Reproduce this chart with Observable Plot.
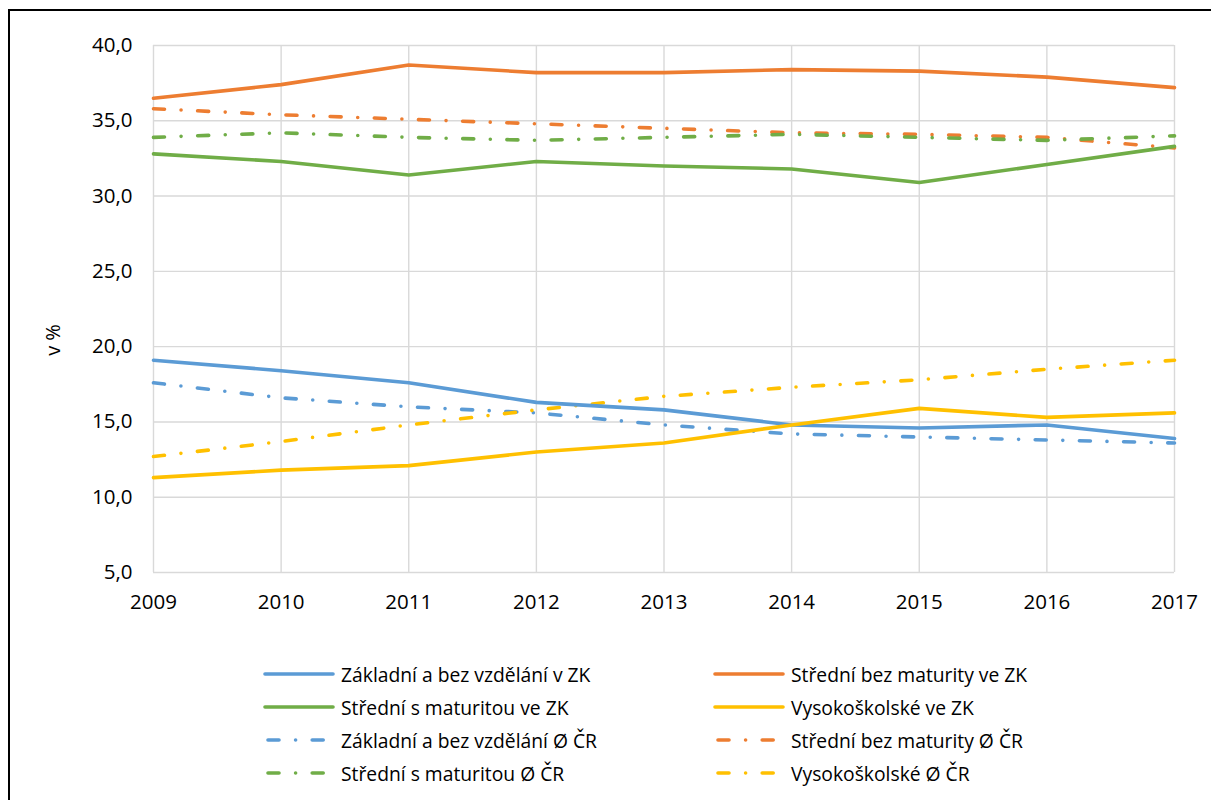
<!DOCTYPE html>
<html>
<head>
<meta charset="utf-8">
<script src="https://cdn.jsdelivr.net/npm/d3@7"></script>
<script src="https://cdn.jsdelivr.net/npm/@observablehq/plot@0.6"></script>
<style>
  html, body { margin: 0; padding: 0; background: #fff; }
  body { width: 1211px; height: 800px; position: relative; overflow: hidden; font-family: "Open Sans", Lato, sans-serif; }
  #frame { position: absolute; left: 8px; top: 9px; width: 1300px; height: 900px; border-left: 2px solid #000; border-top: 2px solid #000; }
  #chart { position: absolute; left: 0; top: 0; }
  #ylabel { position: absolute; left: 52px; top: 340px; transform: translate(-50%, -50%) rotate(-90deg); font-size: 20px; color: #000; white-space: nowrap; }
  .leg { position: absolute; display: flex; align-items: center; font-size: 19.3px; color: #000; white-space: nowrap; }
  .leg svg { margin-right: 6px; }
</style>
</head>
<body>
<div id="frame"></div>
<div id="chart"></div>
<div id="ylabel">v %</div>
<div id="legend"></div>
<script>
const years = [2009, 2010, 2011, 2012, 2013, 2014, 2015, 2016, 2017];
const yTicks = [5, 10, 15, 20, 25, 30, 35, 40];

const zakladniZK   = [19.1, 18.4, 17.6, 16.3, 15.8, 14.8, 14.6, 14.8, 13.9];
const stredniBezZK = [36.5, 37.4, 38.7, 38.2, 38.2, 38.4, 38.3, 37.9, 37.2];
const stredniSZK   = [32.8, 32.3, 31.4, 32.3, 32.0, 31.8, 30.9, 32.1, 33.3];
const vysokoZK     = [11.3, 11.8, 12.1, 13.0, 13.6, 14.8, 15.9, 15.3, 15.6];
const zakladniCR   = [17.6, 16.6, 16.0, 15.6, 14.8, 14.2, 14.0, 13.8, 13.6];
const stredniBezCR = [35.8, 35.4, 35.1, 34.8, 34.5, 34.2, 34.1, 33.9, 33.2];
const stredniSCR   = [33.9, 34.2, 33.9, 33.7, 33.9, 34.1, 33.9, 33.7, 34.0];
const vysokoCR     = [12.7, 13.7, 14.8, 15.8, 16.7, 17.3, 17.8, 18.5, 19.1];

const seriesNames = [
  "Základní a bez vzdělání v ZK", "Střední bez maturity ve ZK",
  "Střední s maturitou ve ZK", "Vysokoškolské ve ZK",
  "Základní a bez vzdělání Ø ČR", "Střední bez maturity Ø ČR",
  "Střední s maturitou Ø ČR", "Vysokoškolské Ø ČR"
];
const seriesValues = [zakladniZK, stredniBezZK, stredniSZK, vysokoZK, zakladniCR, stredniBezCR, stredniSCR, vysokoCR];
const seriesColors = ["#5B9BD5", "#ED7D31", "#70AD47", "#FFC000", "#5B9BD5", "#ED7D31", "#70AD47", "#FFC000"];
const seriesDashed = [false, false, false, false, true, true, true, true];

const DASH = "11,16.6,0,16.6";
const LW = 3.6;

const rows = [];
seriesNames.forEach((name, i) => {
  seriesValues[i].forEach((v, j) => rows.push({series: name, year: years[j], value: v}));
});

const fmt = d => d.toFixed(1).replace(".", ",");
const FS = 20.5;

const marks = [
  Plot.gridX(years, {stroke: "#d9d9d9", strokeOpacity: 1, strokeWidth: 1.4}),
  Plot.gridY(yTicks, {stroke: "#d9d9d9", strokeOpacity: 1, strokeWidth: 1.4}),
  Plot.axisX(years, {tickSize: 0, tickPadding: 22, tickFormat: d => String(d), fontSize: FS, fill: "#000"}),
  Plot.axisY(yTicks, {tickSize: 0, tickPadding: 21, tickFormat: fmt, fontSize: FS, fill: "#000", label: null})
];
const order = [4, 5, 6, 7, 0, 1, 2, 3];
for (const i of order) {
  marks.push(Plot.lineY(rows.filter(r => r.series === seriesNames[i]), {
    x: "year", y: "value",
    stroke: seriesColors[i], strokeWidth: LW,
    strokeDasharray: seriesDashed[i] ? DASH : null,
    strokeLinecap: "round", strokeLinejoin: "round"
  }));
}

const chart = Plot.plot({
  width: 1211, height: 620,
  marginLeft: 153, marginRight: 37, marginTop: 45, marginBottom: 48,
  style: {fontFamily: "'Open Sans', Lato, sans-serif", background: "transparent", overflow: "visible"},
  x: {type: "linear", domain: [2009, 2017], label: null},
  y: {domain: [5, 40], label: null},
  marks
});
document.getElementById("chart").appendChild(chart);

// legend
const legend = document.getElementById("legend");
const legendPos = [
  [263, 674], [713, 674],
  [263, 707], [713, 707],
  [263, 740], [713, 740],
  [263, 773], [713, 773]
];
seriesNames.forEach((name, i) => {
  const div = document.createElement("div");
  div.className = "leg";
  div.style.left = legendPos[i][0] + "px";
  div.style.top = (legendPos[i][1] - 14) + "px";
  div.style.height = "28px";
  const dash = seriesDashed[i] ? ' stroke-dasharray="11,16.6,0,16.6" stroke-dashoffset="-3"' : "";
  div.innerHTML = `<svg width="72" height="10"><line x1="2" y1="5" x2="70" y2="5" stroke="${seriesColors[i]}" stroke-width="${LW}" stroke-linecap="round"${dash}/></svg><span>${name}</span>`;
  legend.appendChild(div);
});
</script>
</body>
</html>
